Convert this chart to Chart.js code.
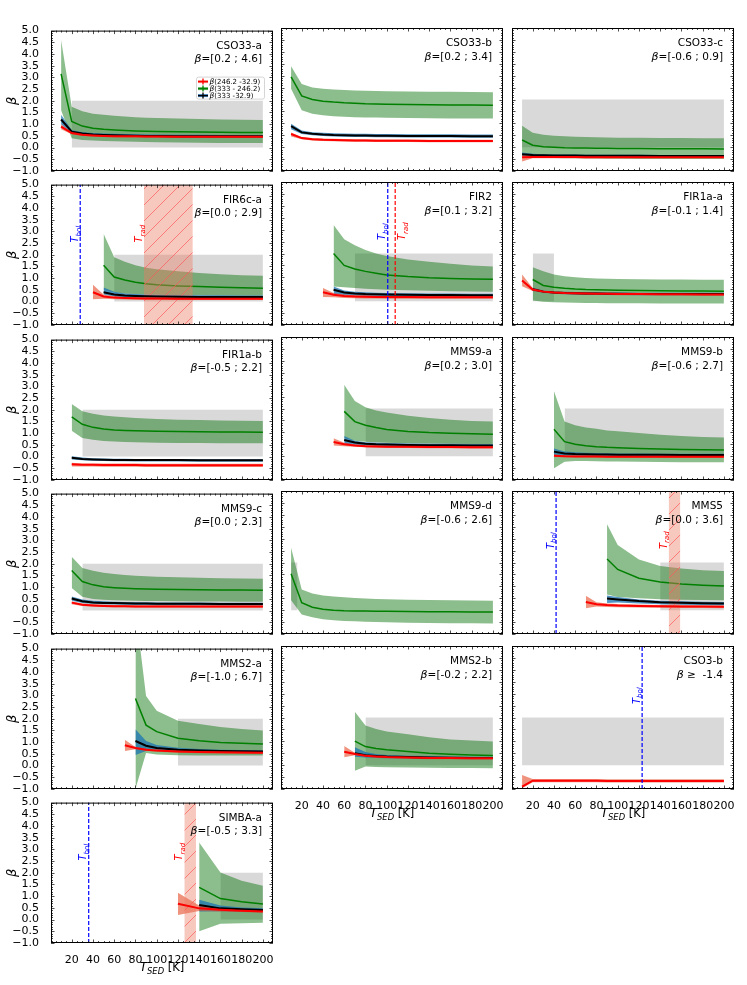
<!DOCTYPE html>
<html>
<head>
<meta charset="utf-8">
<script src="https://cdn.jsdelivr.net/npm/chart.js@4.4.1/dist/chart.umd.min.js"></script>
<style>
  body { margin: 0; background: #fff; width: 747px; height: 985px; position: relative; overflow: hidden; }
  canvas { position: absolute; }
</style>
</head>
<body>
<script>
const _ = null

// x grid of T_SED (K) shared by every panel
const TSED = [10, 20, 30, 40, 50, 60, 70, 80, 90, 100, 120, 140, 160, 180, 200]
const xTicks = [20, 40, 60, 80, 100, 120, 140, 160, 180, 200]
const yTicks = [-1, -0.5, 0, 0.5, 1, 1.5, 2, 2.5, 3, 3.5, 4, 4.5, 5]

const names = ["CSO33-a", "CSO33-b", "CSO33-c", "FIR6c-a", "FIR2", "FIR1a-a", "FIR1a-b", "MMS9-a",
  "MMS9-b", "MMS9-c", "MMS9-d", "MMS5", "MMS2-a", "MMS2-b", "CSO3-b", "SIMBA-a"]
const betaText = ["=[0.2 ; 4.6]", "=[0.2 ; 3.4]", "=[-0.6 ; 0.9]", "=[0.0 ; 2.9]", "=[0.1 ; 3.2]",
  "=[-0.1 ; 1.4]", "=[-0.5 ; 2.2]", "=[0.2 ; 3.0]", "=[-0.6 ; 2.7]", "=[0.0 ; 2.3]", "=[-0.6 ; 2.6]",
  "=[0.0 ; 3.6]", "=[-1.0 ; 6.7]", "=[-0.2 ; 2.2]", " \u2265  -1.4", "=[-0.5 ; 3.3]"]

// grey box (beta 0..2) x extent
const grayFrom = [20, _, 10, 60, 70, 20, 30, 80, 50, 30, 10, 140, 120, 80, 10, 160]
const grayTo = [200, _, 200, 200, 200, 40, 200, 200, 200, 200, 16, 200, 200, 200, 200, 200]
const grayBeta = [0, 2]

// T_bol line and T_rad band (lo == hi -> dashed line)
const tBol = [_, _, _, 28, 101, _, _, _, _, _, _, 42, _, _, 123, 36]
const tRadLo = [_, _, _, 88, 108, _, _, _, _, _, _, 148, _, _, _, 126]
const tRadHi = [_, _, _, 134, 108, _, _, _, _, _, _, 159, _, _, _, 137]

// beta(333 - 246.2), green
const gMid = [
  [3.15, 1.12, 0.92, 0.83, 0.78, 0.75, 0.73, 0.71, 0.7, 0.69, 0.68, 0.67, 0.66, 0.65, 0.64],
  [2.95, 2.15, 2.0, 1.93, 1.89, 1.86, 1.84, 1.82, 1.81, 1.8, 1.79, 1.78, 1.77, 1.77, 1.76],
  [0.3, 0.08, 0.02, 0.0, -0.02, -0.03, -0.04, -0.05, -0.05, -0.06, -0.06, -0.07, -0.07, -0.07, -0.08],
  [_, _, _, _, 1.55, 1.05, 0.92, 0.83, 0.76, 0.72, 0.67, 0.64, 0.61, 0.59, 0.57],
  [_, _, _, _, 2.0, 1.5, 1.35, 1.25, 1.17, 1.1, 1.03, 0.98, 0.95, 0.93, 0.92],
  [_, 0.91, 0.66, 0.58, 0.54, 0.51, 0.49, 0.48, 0.47, 0.46, 0.45, 0.44, 0.43, 0.43, 0.42],
  [_, 1.7, 1.38, 1.25, 1.18, 1.14, 1.12, 1.1, 1.09, 1.08, 1.07, 1.06, 1.05, 1.05, 1.04],
  [_, _, _, _, _, 1.88, 1.45, 1.3, 1.2, 1.12, 1.04, 0.99, 0.96, 0.94, 0.92],
  [_, _, _, 1.13, 0.61, 0.5, 0.44, 0.4, 0.37, 0.35, 0.32, 0.3, 0.28, 0.27, 0.26],
  [_, 1.71, 1.24, 1.1, 1.02, 0.98, 0.95, 0.93, 0.92, 0.91, 0.9, 0.89, 0.88, 0.88, 0.87],
  [1.53, 0.31, 0.12, 0.04, 0.0, -0.02, -0.03, -0.04, -0.05, -0.05, -0.06, -0.07, -0.07, -0.08, -0.08],
  [_, _, _, _, _, _, _, _, 2.15, 1.71, 1.34, 1.18, 1.1, 1.05, 1.01],
  [_, _, _, _, _, _, _, 2.87, 1.73, 1.45, 1.17, 1.06, 0.99, 0.95, 0.92],
  [_, _, _, _, _, _, 1.01, 0.78, 0.7, 0.65, 0.57, 0.5, 0.46, 0.43, 0.41],
  [_, _, _, _, _, _, _, _, _, _, _, _, _, _, _],
  [_, _, _, _, _, _, _, _, _, _, _, 1.38, 0.9, 0.76, 0.67],
]
const gHi = [
  [4.6, 1.75, 1.55, 1.45, 1.4, 1.36, 1.33, 1.3, 1.28, 1.26, 1.24, 1.22, 1.2, 1.19, 1.18],
  [3.4, 2.65, 2.5, 2.45, 2.42, 2.4, 2.38, 2.37, 2.36, 2.35, 2.34, 2.33, 2.32, 2.31, 2.3],
  [0.9, 0.6, 0.52, 0.48, 0.46, 0.44, 0.43, 0.42, 0.41, 0.4, 0.39, 0.38, 0.38, 0.37, 0.37],
  [_, _, _, _, 2.9, 1.9, 1.7, 1.55, 1.45, 1.38, 1.3, 1.22, 1.17, 1.13, 1.1],
  [_, _, _, _, 3.2, 2.6, 2.35, 2.15, 2.0, 1.9, 1.75, 1.65, 1.57, 1.5, 1.45],
  [_, 1.42, 1.26, 1.12, 1.05, 1.0, 0.97, 0.95, 0.94, 0.93, 0.92, 0.91, 0.91, 0.9, 0.9],
  [_, 2.25, 1.94, 1.83, 1.76, 1.71, 1.68, 1.65, 1.63, 1.61, 1.58, 1.56, 1.54, 1.53, 1.52],
  [_, _, _, _, _, 3.0, 2.31, 2.05, 1.92, 1.83, 1.7, 1.6, 1.53, 1.48, 1.45],
  [_, _, _, 2.73, 1.45, 1.3, 1.2, 1.15, 1.08, 1.05, 0.97, 0.9, 0.85, 0.8, 0.78],
  [_, 2.3, 1.82, 1.7, 1.62, 1.56, 1.52, 1.49, 1.47, 1.45, 1.42, 1.4, 1.38, 1.37, 1.36],
  [2.62, 0.87, 0.7, 0.62, 0.57, 0.54, 0.51, 0.49, 0.47, 0.46, 0.44, 0.43, 0.42, 0.41, 0.4],
  [_, _, _, _, _, _, _, _, 3.6, 2.73, 2.13, 1.85, 1.75, 1.68, 1.64],
  [_, _, _, _, _, _, _, 6.7, 2.97, 2.34, 1.92, 1.78, 1.65, 1.56, 1.5],
  [_, _, _, _, _, _, 2.24, 1.66, 1.52, 1.41, 1.3, 1.17, 1.08, 1.03, 0.99],
  [_, _, _, _, _, _, _, _, _, _, _, _, _, _, _],
  [_, _, _, _, _, _, _, _, _, _, _, 3.3, 2.01, 1.66, 1.45],
]
const gLo = [
  [1.6, 0.4, 0.33, 0.3, 0.28, 0.27, 0.26, 0.25, 0.24, 0.23, 0.22, 0.21, 0.2, 0.2, 0.2],
  [2.45, 1.55, 1.4, 1.34, 1.3, 1.28, 1.26, 1.25, 1.24, 1.23, 1.22, 1.21, 1.2, 1.2, 1.2],
  [-0.3, -0.4, -0.43, -0.45, -0.46, -0.47, -0.48, -0.48, -0.49, -0.49, -0.5, -0.5, -0.5, -0.5, -0.5],
  [_, _, _, _, 0.5, 0.4, 0.35, 0.32, 0.3, 0.29, 0.28, 0.27, 0.26, 0.25, 0.25],
  [_, _, _, _, 0.62, 0.58, 0.55, 0.52, 0.5, 0.48, 0.46, 0.44, 0.42, 0.41, 0.4],
  [_, 0.03, -0.02, -0.05, -0.06, -0.07, -0.08, -0.08, -0.09, -0.09, -0.09, -0.1, -0.1, -0.1, -0.1],
  [_, 1.1, 0.8, 0.72, 0.67, 0.64, 0.62, 0.61, 0.6, 0.59, 0.58, 0.58, 0.57, 0.57, 0.57],
  [_, _, _, _, _, 0.75, 0.65, 0.6, 0.58, 0.56, 0.54, 0.53, 0.52, 0.51, 0.51],
  [_, _, _, -0.51, -0.23, -0.2, -0.2, -0.21, -0.22, -0.22, -0.23, -0.24, -0.25, -0.25, -0.26],
  [_, 0.97, 0.59, 0.5, 0.46, 0.44, 0.43, 0.42, 0.41, 0.41, 0.4, 0.39, 0.39, 0.38, 0.38],
  [0.42, -0.18, -0.3, -0.38, -0.42, -0.45, -0.47, -0.49, -0.5, -0.51, -0.53, -0.54, -0.55, -0.55, -0.56],
  [_, _, _, _, _, _, _, _, 0.66, 0.55, 0.5, 0.46, 0.44, 0.43, 0.42],
  [_, _, _, _, _, _, _, -1.0, 0.54, 0.47, 0.44, 0.43, 0.43, 0.43, 0.43],
  [_, _, _, _, _, _, -0.23, -0.06, -0.08, -0.09, -0.1, -0.11, -0.12, -0.12, -0.13],
  [_, _, _, _, _, _, _, _, _, _, _, _, _, _, _],
  [_, _, _, _, _, _, _, _, _, _, _, -0.5, -0.18, -0.16, -0.13],
]

// beta(333 - 32.9), black line in blue band
const kMid = [
  [1.2, 0.68, 0.6, 0.56, 0.54, 0.53, 0.52, 0.51, 0.5, 0.5, 0.49, 0.49, 0.48, 0.48, 0.48],
  [0.88, 0.62, 0.56, 0.53, 0.51, 0.5, 0.49, 0.49, 0.48, 0.48, 0.47, 0.47, 0.47, 0.46, 0.46],
  [-0.3, -0.33, -0.34, -0.35, -0.35, -0.35, -0.36, -0.36, -0.36, -0.36, -0.36, -0.37, -0.37, -0.37, -0.37],
  [_, _, _, _, 0.4, 0.3, 0.26, 0.24, 0.23, 0.22, 0.21, 0.2, 0.2, 0.2, 0.2],
  [_, _, _, _, 0.48, 0.36, 0.32, 0.3, 0.29, 0.28, 0.27, 0.26, 0.26, 0.25, 0.25],
  [_, 0.5, 0.4, 0.36, 0.34, 0.33, 0.32, 0.32, 0.31, 0.31, 0.3, 0.3, 0.3, 0.3, 0.3],
  [_, -0.05, -0.1, -0.12, -0.13, -0.14, -0.14, -0.15, -0.15, -0.15, -0.15, -0.16, -0.16, -0.16, -0.16],
  [_, _, _, _, _, 0.68, 0.57, 0.52, 0.5, 0.49, 0.47, 0.46, 0.46, 0.45, 0.45],
  [_, _, _, 0.19, 0.11, 0.09, 0.08, 0.07, 0.07, 0.06, 0.06, 0.06, 0.05, 0.05, 0.05],
  [_, 0.52, 0.4, 0.35, 0.33, 0.32, 0.31, 0.3, 0.3, 0.29, 0.29, 0.29, 0.28, 0.28, 0.28],
  [_, _, _, _, _, _, _, _, _, _, _, _, _, _, _],
  [_, _, _, _, _, _, _, _, 0.49, 0.45, 0.38, 0.33, 0.31, 0.29, 0.28],
  [_, _, _, _, _, _, _, 1.05, 0.85, 0.75, 0.68, 0.64, 0.62, 0.61, 0.6],
  [_, _, _, _, _, _, 0.5, 0.42, 0.38, 0.36, 0.34, 0.32, 0.31, 0.3, 0.3],
  [_, _, _, _, _, _, _, _, _, _, _, _, _, _, _],
  [_, _, _, _, _, _, _, _, _, _, _, 0.62, 0.48, 0.44, 0.41],
]
const bHi = [
  [1.4, 0.75, 0.66, 0.62, 0.6, 0.59, 0.58, 0.57, 0.56, 0.56, 0.55, 0.55, 0.54, 0.54, 0.54],
  [0.98, 0.7, 0.63, 0.6, 0.58, 0.57, 0.56, 0.56, 0.55, 0.55, 0.54, 0.54, 0.54, 0.53, 0.53],
  [-0.22, -0.28, -0.3, -0.31, -0.31, -0.31, -0.32, -0.32, -0.32, -0.32, -0.32, -0.33, -0.33, -0.33, -0.33],
  [_, _, _, _, 0.6, 0.42, 0.35, 0.32, 0.3, 0.29, 0.28, 0.27, 0.27, 0.26, 0.26],
  [_, _, _, _, 0.62, 0.45, 0.4, 0.37, 0.35, 0.34, 0.33, 0.32, 0.32, 0.31, 0.31],
  [_, 0.57, 0.45, 0.41, 0.39, 0.38, 0.37, 0.37, 0.36, 0.36, 0.35, 0.35, 0.35, 0.35, 0.35],
  [_, 0.02, -0.04, -0.07, -0.08, -0.09, -0.09, -0.1, -0.1, -0.1, -0.1, -0.11, -0.11, -0.11, -0.11],
  [_, _, _, _, _, 0.85, 0.65, 0.58, 0.56, 0.55, 0.53, 0.52, 0.52, 0.51, 0.51],
  [_, _, _, 0.32, 0.2, 0.16, 0.14, 0.13, 0.12, 0.11, 0.11, 0.1, 0.1, 0.1, 0.1],
  [_, 0.6, 0.47, 0.42, 0.4, 0.38, 0.37, 0.36, 0.36, 0.35, 0.35, 0.35, 0.34, 0.34, 0.34],
  [_, _, _, _, _, _, _, _, _, _, _, _, _, _, _],
  [_, _, _, _, _, _, _, _, 0.62, 0.55, 0.45, 0.4, 0.37, 0.35, 0.34],
  [_, _, _, _, _, _, _, 1.55, 1.05, 0.88, 0.76, 0.71, 0.68, 0.67, 0.66],
  [_, _, _, _, _, _, 0.75, 0.55, 0.47, 0.43, 0.4, 0.38, 0.36, 0.35, 0.35],
  [_, _, _, _, _, _, _, _, _, _, _, _, _, _, _],
  [_, _, _, _, _, _, _, _, _, _, _, 0.85, 0.6, 0.52, 0.48],
]
const bLo = [
  [1.0, 0.6, 0.54, 0.5, 0.48, 0.47, 0.46, 0.45, 0.44, 0.44, 0.43, 0.43, 0.42, 0.42, 0.42],
  [0.75, 0.55, 0.5, 0.47, 0.45, 0.44, 0.43, 0.43, 0.42, 0.42, 0.41, 0.41, 0.41, 0.4, 0.4],
  [-0.38, -0.38, -0.38, -0.39, -0.39, -0.39, -0.4, -0.4, -0.4, -0.4, -0.4, -0.41, -0.41, -0.41, -0.41],
  [_, _, _, _, 0.3, 0.22, 0.18, 0.16, 0.15, 0.15, 0.14, 0.14, 0.14, 0.14, 0.14],
  [_, _, _, _, 0.3, 0.26, 0.24, 0.22, 0.21, 0.2, 0.19, 0.19, 0.18, 0.18, 0.18],
  [_, 0.43, 0.35, 0.31, 0.29, 0.28, 0.27, 0.27, 0.26, 0.26, 0.25, 0.25, 0.25, 0.25, 0.25],
  [_, -0.12, -0.16, -0.18, -0.19, -0.2, -0.2, -0.21, -0.21, -0.21, -0.21, -0.22, -0.22, -0.22, -0.22],
  [_, _, _, _, _, 0.52, 0.48, 0.45, 0.43, 0.42, 0.41, 0.4, 0.4, 0.39, 0.39],
  [_, _, _, 0.05, 0.03, 0.02, 0.01, 0.01, 0, 0, 0, 0, 0, 0, 0],
  [_, 0.42, 0.33, 0.29, 0.27, 0.26, 0.25, 0.24, 0.24, 0.23, 0.23, 0.23, 0.22, 0.22, 0.22],
  [_, _, _, _, _, _, _, _, _, _, _, _, _, _, _],
  [_, _, _, _, _, _, _, _, 0.3, 0.32, 0.28, 0.25, 0.23, 0.22, 0.21],
  [_, _, _, _, _, _, _, 0.45, 0.62, 0.62, 0.6, 0.57, 0.56, 0.55, 0.54],
  [_, _, _, _, _, _, 0.35, 0.32, 0.3, 0.29, 0.28, 0.27, 0.26, 0.25, 0.25],
  [_, _, _, _, _, _, _, _, _, _, _, _, _, _, _],
  [_, _, _, _, _, _, _, _, _, _, _, 0.35, 0.36, 0.34, 0.33],
]

// beta(246.2 - 32.9), red
const rMid = [
  [0.9, 0.62, 0.55, 0.52, 0.5, 0.49, 0.48, 0.48, 0.47, 0.47, 0.46, 0.46, 0.46, 0.46, 0.46],
  [0.55, 0.38, 0.33, 0.31, 0.3, 0.29, 0.28, 0.28, 0.27, 0.27, 0.27, 0.26, 0.26, 0.26, 0.26],
  [-0.42, -0.41, -0.41, -0.41, -0.41, -0.41, -0.42, -0.42, -0.42, -0.42, -0.42, -0.42, -0.42, -0.42, -0.42],
  [_, _, _, 0.4, 0.22, 0.17, 0.15, 0.14, 0.13, 0.13, 0.12, 0.12, 0.12, 0.12, 0.12],
  [_, _, _, 0.37, 0.27, 0.22, 0.2, 0.19, 0.18, 0.17, 0.17, 0.16, 0.16, 0.16, 0.16],
  [0.87, 0.49, 0.4, 0.36, 0.34, 0.33, 0.32, 0.31, 0.31, 0.3, 0.3, 0.29, 0.29, 0.28, 0.28],
  [_, -0.33, -0.35, -0.35, -0.36, -0.36, -0.36, -0.36, -0.37, -0.37, -0.37, -0.37, -0.37, -0.37, -0.37],
  [_, _, _, _, 0.59, 0.5, 0.45, 0.42, 0.41, 0.4, 0.39, 0.38, 0.38, 0.37, 0.37],
  [_, _, _, 0.02, 0, -0.01, -0.01, -0.01, -0.02, -0.02, -0.02, -0.02, -0.02, -0.02, -0.02],
  [_, 0.34, 0.25, 0.22, 0.2, 0.19, 0.19, 0.18, 0.18, 0.18, 0.18, 0.17, 0.17, 0.17, 0.17],
  [_, _, _, _, _, _, _, _, _, _, _, _, _, _, _],
  [_, _, _, _, _, _, 0.34, 0.25, 0.22, 0.2, 0.18, 0.16, 0.15, 0.15, 0.14],
  [_, _, _, _, _, _, 0.87, 0.75, 0.68, 0.64, 0.6, 0.58, 0.57, 0.56, 0.55],
  [_, _, _, _, _, 0.56, 0.47, 0.4, 0.36, 0.34, 0.32, 0.3, 0.3, 0.29, 0.29],
  [-0.9, -0.65, -0.65, -0.65, -0.65, -0.65, -0.65, -0.65, -0.66, -0.66, -0.66, -0.66, -0.66, -0.66, -0.66],
  [_, _, _, _, _, _, _, _, _, _, 0.68, 0.48, 0.42, 0.38, 0.35],
]
const rHi = [
  [1.0, 0.67, 0.6, 0.57, 0.55, 0.54, 0.53, 0.53, 0.52, 0.52, 0.51, 0.51, 0.51, 0.51, 0.51],
  [0.62, 0.43, 0.38, 0.36, 0.35, 0.34, 0.33, 0.33, 0.32, 0.32, 0.32, 0.31, 0.31, 0.31, 0.31],
  [-0.3, -0.35, -0.36, -0.36, -0.36, -0.36, -0.37, -0.37, -0.37, -0.37, -0.37, -0.37, -0.37, -0.37, -0.37],
  [_, _, _, 0.72, 0.3, 0.23, 0.2, 0.19, 0.18, 0.18, 0.17, 0.17, 0.17, 0.17, 0.17],
  [_, _, _, 0.55, 0.34, 0.28, 0.26, 0.25, 0.24, 0.23, 0.23, 0.22, 0.22, 0.22, 0.22],
  [1.12, 0.55, 0.45, 0.41, 0.39, 0.38, 0.37, 0.36, 0.36, 0.35, 0.35, 0.34, 0.34, 0.33, 0.33],
  [_, -0.26, -0.29, -0.29, -0.3, -0.3, -0.3, -0.3, -0.31, -0.31, -0.31, -0.31, -0.31, -0.31, -0.31],
  [_, _, _, _, 0.75, 0.56, 0.5, 0.47, 0.46, 0.45, 0.44, 0.43, 0.43, 0.42, 0.42],
  [_, _, _, 0.07, 0.04, 0.03, 0.03, 0.03, 0.02, 0.02, 0.02, 0.02, 0.02, 0.02, 0.02],
  [_, 0.4, 0.3, 0.27, 0.25, 0.24, 0.24, 0.23, 0.23, 0.23, 0.23, 0.22, 0.22, 0.22, 0.22],
  [_, _, _, _, _, _, _, _, _, _, _, _, _, _, _],
  [_, _, _, _, _, _, 0.6, 0.33, 0.28, 0.26, 0.24, 0.22, 0.21, 0.2, 0.2],
  [_, _, _, _, _, _, 1.1, 0.8, 0.73, 0.69, 0.65, 0.63, 0.62, 0.61, 0.6],
  [_, _, _, _, _, 0.8, 0.52, 0.45, 0.41, 0.39, 0.37, 0.35, 0.35, 0.34, 0.34],
  [-0.41, -0.58, -0.58, -0.58, -0.58, -0.58, -0.58, -0.58, -0.59, -0.59, -0.59, -0.59, -0.59, -0.59, -0.59],
  [_, _, _, _, _, _, _, _, _, _, 1.15, 0.6, 0.5, 0.45, 0.41],
]
const rLo = [
  [0.78, 0.57, 0.5, 0.47, 0.45, 0.44, 0.43, 0.43, 0.42, 0.42, 0.41, 0.41, 0.41, 0.41, 0.41],
  [0.45, 0.33, 0.28, 0.26, 0.25, 0.24, 0.23, 0.23, 0.22, 0.22, 0.22, 0.21, 0.21, 0.21, 0.21],
  [-0.6, -0.47, -0.46, -0.46, -0.46, -0.46, -0.47, -0.47, -0.47, -0.47, -0.47, -0.47, -0.47, -0.47, -0.47],
  [_, _, _, 0.1, 0.12, 0.1, 0.09, 0.08, 0.08, 0.08, 0.07, 0.07, 0.07, 0.07, 0.07],
  [_, _, _, 0.18, 0.16, 0.13, 0.12, 0.11, 0.11, 0.1, 0.1, 0.1, 0.1, 0.1, 0.1],
  [0.63, 0.43, 0.35, 0.31, 0.29, 0.28, 0.27, 0.26, 0.26, 0.25, 0.25, 0.24, 0.24, 0.23, 0.23],
  [_, -0.42, -0.42, -0.42, -0.43, -0.43, -0.43, -0.43, -0.44, -0.44, -0.44, -0.44, -0.44, -0.44, -0.44],
  [_, _, _, _, 0.45, 0.42, 0.39, 0.37, 0.36, 0.35, 0.34, 0.33, 0.33, 0.32, 0.32],
  [_, _, _, -0.04, -0.05, -0.05, -0.05, -0.06, -0.06, -0.06, -0.06, -0.06, -0.06, -0.06, -0.06],
  [_, 0.27, 0.2, 0.17, 0.15, 0.14, 0.14, 0.13, 0.13, 0.13, 0.13, 0.12, 0.12, 0.12, 0.12],
  [_, _, _, _, _, _, _, _, _, _, _, _, _, _, _],
  [_, _, _, _, _, _, 0.08, 0.15, 0.13, 0.12, 0.11, 0.1, 0.09, 0.09, 0.08],
  [_, _, _, _, _, _, 0.62, 0.7, 0.63, 0.59, 0.55, 0.53, 0.52, 0.51, 0.5],
  [_, _, _, _, _, 0.33, 0.42, 0.35, 0.31, 0.29, 0.27, 0.25, 0.25, 0.24, 0.24],
  [-0.97, -0.72, -0.72, -0.72, -0.72, -0.72, -0.72, -0.72, -0.73, -0.73, -0.73, -0.73, -0.73, -0.73, -0.73],
  [_, _, _, _, _, _, _, _, _, _, 0.2, 0.37, 0.35, 0.32, 0.3],
]

const legendLabels = ["(246.2 -32.9)", "(333 - 246.2)", "(333 -32.9)"]

// layout
const COLS = [51, 281, 512]
const ROWS = [28, 182, 337, 491, 646, 800]
const PW = 222, PH = 143
const PADL = 52, PADT = 8, PADR = 8, PADB = 40
const FONT = '"DejaVu Sans"'

function pts(ys) {
  const out = []
  ys.forEach((y, i) => { if (y !== null) out.push({ x: TSED[i], y: y }) })
  return out
}

function hatchTile() {
  const t = document.createElement("canvas")
  t.width = 16
  t.height = 16
  const c = t.getContext("2d")
  c.fillStyle = "rgba(236,125,100,0.42)"
  c.fillRect(0, 0, 16, 16)
  c.strokeStyle = "rgba(255,90,90,0.7)"
  c.lineWidth = 1
  c.beginPath()
  c.moveTo(-2, 18); c.lineTo(18, -2)
  c.moveTo(-2, 2); c.lineTo(2, -2)
  c.moveTo(14, 18); c.lineTo(18, 14)
  c.stroke()
  return t
}
const tile = hatchTile()

function subText(ctx, x, y, main, sub, size, color) {
  ctx.fillStyle = color
  ctx.textAlign = "left"
  ctx.font = "italic " + size + "px " + FONT
  ctx.fillText(main, x, y)
  const w = ctx.measureText(main).width
  ctx.font = "italic " + (size * 0.7) + "px " + FONT
  ctx.fillText(sub, x + w, y + size * 0.28)
  return w + ctx.measureText(sub).width
}

// frame, inward ticks, texts
const decor = {
  id: "decor",
  afterDraw(chart, args, opts) {
    const p = opts.p
    const ctx = chart.ctx
    const a = chart.chartArea
    const xs = chart.scales.x
    const ys = chart.scales.y
    ctx.save()

    ctx.strokeStyle = "#222"
    ctx.lineWidth = 0.8
    ctx.beginPath()
    for (let i = 0; i <= 60; i++) {
      const py = Math.round(ys.getPixelForValue(-1 + i * 0.1)) + 0.5
      const len = i % 5 === 0 ? 3.5 : 2
      ctx.moveTo(a.left, py); ctx.lineTo(a.left + len, py)
      ctx.moveTo(a.right, py); ctx.lineTo(a.right - len, py)
    }
    for (let v = 5; v <= 205; v += 5) {
      const px = Math.round(xs.getPixelForValue(v)) + 0.5
      const len = v % 20 === 0 ? 3.5 : 2
      ctx.moveTo(px, a.bottom); ctx.lineTo(px, a.bottom - len)
      ctx.moveTo(px, a.top); ctx.lineTo(px, a.top + len)
    }
    ctx.stroke()

    ctx.strokeStyle = "#000"
    ctx.lineWidth = 1
    ctx.strokeRect(a.left + 0.5, a.top + 0.5, a.right - a.left - 1, a.bottom - a.top - 1)

    // source name and beta range
    ctx.fillStyle = "#000"
    ctx.textAlign = "right"
    ctx.textBaseline = "alphabetic"
    ctx.font = "10.5px " + FONT
    ctx.fillText(names[p], a.right - 11, a.top + 18)
    const w = ctx.measureText(betaText[p]).width
    ctx.fillText(betaText[p], a.right - 11, a.top + 31.5)
    ctx.font = "italic 11px " + FONT
    ctx.fillText("\u03b2", a.right - 11 - w, a.top + 31.5)

    // T_bol / T_rad labels
    const vlabel = (x, sub, color) => {
      ctx.save()
      ctx.translate(x, a.top + 58)
      ctx.rotate(-Math.PI / 2)
      subText(ctx, 0, 0, "T", sub, 10, color)
      ctx.restore()
    }
    if (tBol[p] !== null) vlabel(xs.getPixelForValue(tBol[p]) - 2.5, "bol", "#0000ff")
    if (tRadLo[p] !== null) {
      if (tRadLo[p] === tRadHi[p]) vlabel(xs.getPixelForValue(tRadLo[p]) + 10, "rad", "#ff0000")
      else vlabel(xs.getPixelForValue(tRadLo[p]) - 2, "rad", "#ff0000")
    }

    // axis titles
    if (p % 3 === 0) {
      ctx.save()
      ctx.translate(a.left - 35, (a.top + a.bottom) / 2)
      ctx.rotate(-Math.PI / 2)
      ctx.fillStyle = "#000"
      ctx.textAlign = "center"
      ctx.font = "italic 13px " + FONT
      ctx.fillText("\u03b2", 0, 0)
      ctx.restore()
    }
    if (opts.xlab) {
      ctx.font = "italic 12px " + FONT
      const w1 = ctx.measureText("T").width
      ctx.font = "italic 8.4px " + FONT
      const w2 = ctx.measureText("SED").width
      ctx.font = "11.5px " + FONT
      const w3 = ctx.measureText(" [K]").width
      const x0 = (a.left + a.right) / 2 - (w1 + w2 + w3) / 2
      const yb = a.bottom + 28
      subText(ctx, x0, yb, "T", "SED", 12, "#000")
      ctx.font = "11.5px " + FONT
      ctx.textAlign = "left"
      ctx.fillText(" [K]", x0 + w1 + w2, yb)
    }

    // legend (first panel only)
    if (p === 0) {
      const lx = a.left + 145, ly = a.top + 46, lw = 68, lh = 22
      ctx.fillStyle = "rgba(255,255,255,0.85)"
      ctx.strokeStyle = "#cccccc"
      ctx.lineWidth = 0.8
      ctx.beginPath()
      ctx.roundRect(lx + 0.5, ly + 0.5, lw, lh, 2)
      ctx.fill()
      ctx.stroke()
      const cols = [["#ff0000", "rgba(240,110,90,0.8)"], ["#008000", "rgba(0,128,0,0.6)"], ["#000000", "#3f7fb8"]]
      legendLabels.forEach((lab, i) => {
        const cy = ly + 5 + i * 7
        ctx.strokeStyle = cols[i][1]
        ctx.lineWidth = 3
        ctx.beginPath(); ctx.moveTo(lx + 2, cy); ctx.lineTo(lx + 12, cy); ctx.stroke()
        ctx.strokeStyle = cols[i][0]
        ctx.lineWidth = 1.3
        ctx.beginPath(); ctx.moveTo(lx + 2, cy); ctx.lineTo(lx + 12, cy)
        ctx.moveTo(lx + 7, cy - 3); ctx.lineTo(lx + 7, cy + 3); ctx.stroke()
        ctx.fillStyle = "#000"
        ctx.textAlign = "left"
        ctx.font = "italic 7.5px " + FONT
        ctx.fillText("\u03b2", lx + 13.5, cy + 2.5)
        const bw = ctx.measureText("\u03b2").width
        ctx.font = "7px " + FONT
        ctx.fillText(lab, lx + 13.5 + bw, cy + 2.5)
      })
    }
    ctx.restore()
  },
}

function bandSets(hi, lo, color, order) {
  if (!hi.some((v) => v !== null)) return []
  return [
    { data: pts(hi), fill: "+1", backgroundColor: color, borderColor: "rgba(0,0,0,0)", borderWidth: 0, pointRadius: 0, order: order },
    { data: pts(lo), fill: false, borderColor: "rgba(0,0,0,0)", borderWidth: 0, pointRadius: 0, order: order },
  ]
}

function lineSet(ys, color, width, order) {
  if (!ys.some((v) => v !== null)) return []
  return [{ data: pts(ys), fill: false, borderColor: color, borderWidth: width, pointRadius: 0, order: order }]
}

function vline(x, color) {
  return { data: [{ x: x, y: -1 }, { x: x, y: 5 }], fill: false, borderColor: color, borderWidth: 1.2,
    borderDash: [4, 2], pointRadius: 0, order: 1 }
}

for (let p = 0; p < 16; p++) {
  const col = p % 3, row = Math.floor(p / 3)
  const canvas = document.createElement("canvas")
  canvas.width = PADL + PW + PADR
  canvas.height = PADT + PH + PADB
  canvas.style.left = (COLS[col] - PADL) + "px"
  canvas.style.top = (ROWS[row] - PADT) + "px"
  document.body.appendChild(canvas)
  const xlab = p >= 13

  const sets = []
  if (grayFrom[p] !== null) {
    sets.push({ data: [{ x: grayFrom[p], y: grayBeta[1] }, { x: grayTo[p], y: grayBeta[1] }], fill: { value: grayBeta[0] },
      backgroundColor: "rgba(128,128,128,0.3)", borderColor: "rgba(0,0,0,0)", borderWidth: 0, pointRadius: 0, order: 10 })
  }
  if (tRadLo[p] !== null && tRadLo[p] !== tRadHi[p]) {
    const pat = canvas.getContext("2d").createPattern(tile, "repeat")
    sets.push({ data: [{ x: tRadLo[p], y: 5 }, { x: tRadHi[p], y: 5 }], fill: "start", backgroundColor: pat,
      borderColor: "rgba(0,0,0,0)", borderWidth: 0, pointRadius: 0, order: 5 })
  }
  sets.push(...bandSets(gHi[p], gLo[p], "rgba(10,115,10,0.47)", 9))
  sets.push(...lineSet(gMid[p], "#008000", 1.5, 8))
  sets.push(...bandSets(bHi[p], bLo[p], "rgba(31,119,180,0.78)", 7))
  sets.push(...bandSets(rHi[p], rLo[p], "rgba(228,75,40,0.6)", 6))
  sets.push(...lineSet(kMid[p], "#000000", 2, 4))
  sets.push(...lineSet(rMid[p], "#ff0000", 2, 3))
  if (tBol[p] !== null) sets.push(vline(tBol[p], "#0000ff"))
  if (tRadLo[p] !== null && tRadLo[p] === tRadHi[p]) sets.push(vline(tRadLo[p], "#ff0000"))

  new Chart(canvas, {
    type: "line",
    data: { datasets: sets },
    plugins: [decor],
    options: {
      responsive: false,
      animation: false,
      events: [],
      layout: { padding: { top: PADT, right: PADR, left: 0, bottom: 0 } },
      plugins: { legend: { display: false }, tooltip: { enabled: false }, decor: { p: p, xlab: xlab } },
      scales: {
        x: {
          type: "linear",
          min: 0.5,
          max: 209.5,
          grid: { display: false },
          border: { display: false },
          afterBuildTicks: (s) => { s.ticks = xTicks.map((v) => ({ value: v })) },
          afterFit: (s) => { s.height = PADB },
          ticks: { display: xlab, autoSkip: false, maxRotation: 0, padding: 3, color: "#000",
            font: { family: "DejaVu Sans", size: 11 } },
        },
        y: {
          type: "linear",
          min: -1,
          max: 5,
          grid: { display: false },
          border: { display: false },
          afterBuildTicks: (s) => { s.ticks = yTicks.map((v) => ({ value: v })) },
          afterFit: (s) => { s.width = PADL },
          ticks: { display: col === 0, autoSkip: false, padding: 4, color: "#000",
            font: { family: "DejaVu Sans", size: 11 },
            callback: (v) => (v < 0 ? "\u2212" : "") + Math.abs(v).toFixed(1) },
        },
      },
    },
  })
}
</script>
</body>
</html>
